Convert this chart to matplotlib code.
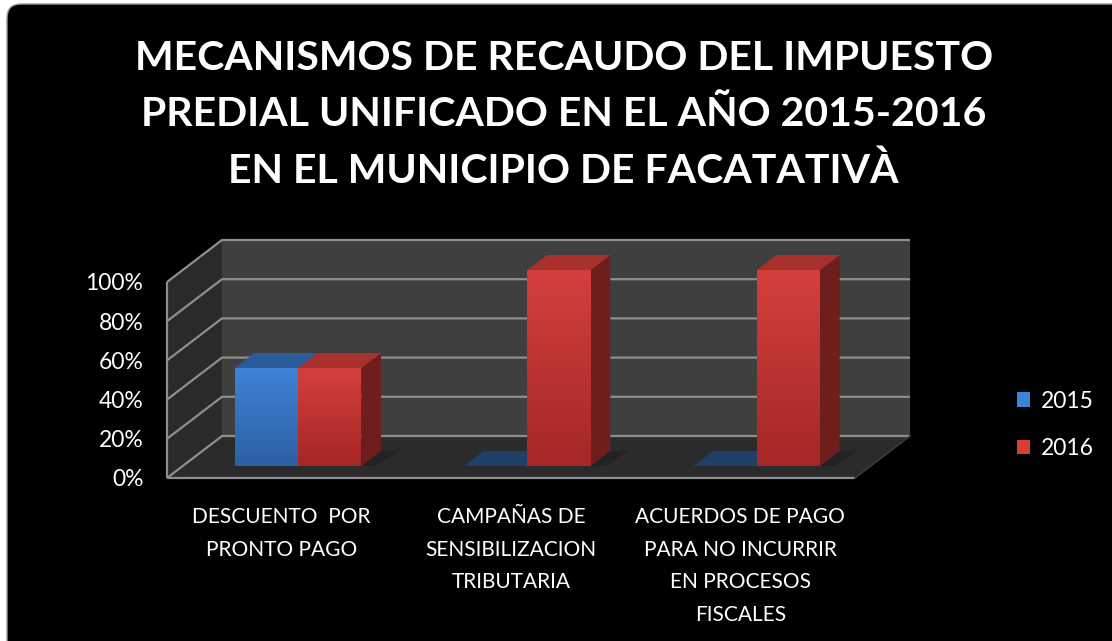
import numpy as np
import matplotlib.pyplot as plt
import matplotlib.transforms as mtransforms
from matplotlib.patches import Polygon, FancyBboxPatch, Patch
from matplotlib.colors import LinearSegmentedColormap

plt.rcParams['font.family'] = ['Lato', 'DejaVu Sans']

title = ("MECANISMOS DE RECAUDO DEL IMPUESTO\n"
         "PREDIAL UNIFICADO EN EL AÑO 2015-2016\n"
         "EN EL MUNICIPIO DE FACATATIVÀ")
categories = ["DESCUENTO  POR\nPRONTO PAGO",
              "CAMPAÑAS DE\nSENSIBILIZACION\nTRIBUTARIA",
              "ACUERDOS DE PAGO\nPARA NO INCURRIR\nEN PROCESOS\nFISCALES"]
series = ["2015", "2016"]
values_2015 = [0.5, 0.0, 0.0]
values_2016 = [0.5, 1.0, 1.0]
yticks = [0.0, 0.2, 0.4, 0.6, 0.8, 1.0]
ytick_labels = ["0%", "20%", "40%", "60%", "80%", "100%"]

# colours: front top, front bottom, side, top
blue = ("#3f82d8", "#2c5fa3", "#1f4577", "#2a5c9c")
red = ("#d43f3c", "#a42826", "#6f1e1c", "#a8302d")
flat_blue = "#1f3e68"

W, H = 1112, 641
fig = plt.figure(figsize=(W / 100, H / 100), dpi=100, facecolor="white")
fig.add_artist(FancyBboxPatch((7, -20), W + 20, H - 4 + 20,
                              boxstyle="round,pad=0,rounding_size=14",
                              transform=mtransforms.IdentityTransform(),
                              fc="black", ec="#9a9a9a", lw=1, zorder=0))

ax = fig.add_axes([167 / W, (H - 478) / H, 688 / W, 196 / H])
ax.set_xlim(0, 3)
ax.set_ylim(0, 1)
ax.set_facecolor("none")
for s in ax.spines.values():
    s.set_visible(False)

# depth of the 3d box in data units
DX = 55 / (688 / 3)
DY = 42 / 196

def poly(pts, fc, z=1):
    p = Polygon(pts, closed=True, fc=fc, ec="none", zorder=z, clip_on=False)
    ax.add_patch(p)
    return p

poly([(0, 0), (DX, DY), (DX, 1 + DY), (0, 1)], "#2a2a2a")
poly([(DX, DY), (3 + DX, DY), (3 + DX, 1 + DY), (DX, 1 + DY)], "#3f3f3f")
poly([(0, 0), (3, 0), (3 + DX, DY), (DX, DY)], "#2b2b2b")

grid_kw = dict(color="#8e8e8e", lw=1.6, zorder=2, clip_on=False, solid_capstyle="butt")
for y in yticks:
    ax.plot([0, DX, 3 + DX], [y, y + DY, y + DY], **grid_kw)
ax.plot([0, 3], [0, 0], **grid_kw)
ax.plot([3, 3 + DX], [0, DY], color="#3a3a3a", lw=1.2, zorder=2, clip_on=False)
ax.plot([0, 0], [0, 1], **grid_kw)

bar_w = 0.276
group_start = 0.227
f0, f1 = 0.286, 0.643

def bar(x0, v, cols):
    fx0, fy0 = x0 + f0 * DX, f0 * DY
    bx, by = (f1 - f0) * DX, (f1 - f0) * DY
    if v <= 0:
        poly([(fx0, fy0), (fx0 + bar_w, fy0), (fx0 + bar_w + bx, fy0 + by),
              (fx0 + bx, fy0 + by)], flat_blue, 3)
        return
    # shadow on the floor
    poly([(fx0 + bar_w, fy0), (fx0 + bar_w + bx, fy0 + by),
          (fx0 + bar_w + bx + 0.08, fy0 + by), (fx0 + bar_w + 0.06, fy0)], "#222222", 2.5)
    poly([(fx0 + bar_w, fy0), (fx0 + bar_w + bx, fy0 + by),
          (fx0 + bar_w + bx, v + fy0 + by), (fx0 + bar_w, v + fy0)], cols[2], 3)
    poly([(fx0, v + fy0), (fx0 + bar_w, v + fy0), (fx0 + bar_w + bx, v + fy0 + by),
          (fx0 + bx, v + fy0 + by)], cols[3], 3)
    front = poly([(fx0, fy0), (fx0 + bar_w, fy0), (fx0 + bar_w, v + fy0), (fx0, v + fy0)],
                 cols[1], 3)
    cmap = LinearSegmentedColormap.from_list("g", [cols[1], cols[0]])
    grad = np.linspace(0, 1, 64).reshape(-1, 1)
    im = ax.imshow(grad, cmap=cmap, origin="lower", aspect="auto",
                   extent=(fx0, fx0 + bar_w, fy0, v + fy0), zorder=3.5)
    im.set_clip_box(fig.bbox)
    im.set_clip_path(front)

for i in range(len(categories)):
    bar(i + group_start, values_2015[i], blue)
    bar(i + group_start + bar_w, values_2016[i], red)

ax.set_xlim(0, 3)
ax.set_ylim(0, 1)

ax.set_yticks(yticks, ytick_labels)
ax.set_xticks([0.5, 1.5, 2.5], categories)
ax.tick_params(axis="y", length=0, pad=17, colors="white", labelsize=16.5)
ax.tick_params(axis="x", length=0, pad=21, colors="white", labelsize=15)
for lab in ax.get_xticklabels():
    lab.set_linespacing(1.78)

fig.text(0.507, (H - 115) / H, title, ha="center", va="center", color="white",
         fontsize=29.5, fontweight="bold", linespacing=1.65)

handles = [Patch(fc=blue[0]), Patch(fc=red[0])]
fig.legend(handles, series, loc="center left", bbox_to_anchor=(996 / W, (H - 425) / H),
           frameon=False, labelcolor="white", fontsize=16.5, handlelength=0.6,
           handleheight=0.6, handletextpad=0.45, labelspacing=1.15)

fig.savefig("out.png", dpi=100, facecolor="white")
